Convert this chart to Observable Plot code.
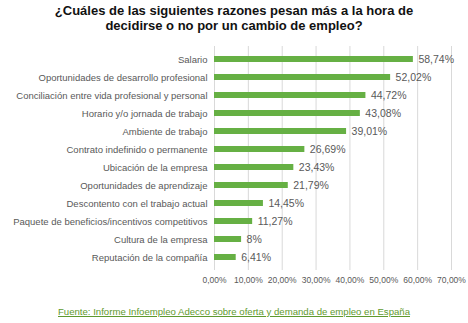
<!DOCTYPE html>
<html><head><meta charset="utf-8">
<script src="https://cdn.jsdelivr.net/npm/d3@7"></script>
<script src="https://cdn.jsdelivr.net/npm/@observablehq/plot@0.6"></script>
<style>
body{margin:0;background:#fff;font-family:"Liberation Sans",Arial,sans-serif;}
#wrap{width:468px;}
#title{height:40px;text-align:center;font-weight:bold;font-size:13px;line-height:15px;color:#111;padding-top:3px;box-sizing:border-box;}
#cap{text-align:center;font-size:9.6px;color:#5f9a2e;text-decoration:underline;margin-top:15px;}
svg{display:block;}
</style></head><body>
<div id="wrap">
<div id="title">¿Cuáles de las siguientes razones pesan más a la hora de<br>decidirse o no por un cambio de empleo?</div>
<div id="chart"></div>
<div id="cap">Fuente: Informe Infoempleo Adecco sobre oferta y demanda de empleo en España</div>
</div>
<script>
const categories = ["Salario","Oportunidades de desarrollo profesional","Conciliación entre vida profesional y personal","Horario y/o jornada de trabajo","Ambiente de trabajo","Contrato indefinido o permanente","Ubicación de la empresa","Oportunidades de aprendizaje","Descontento con el trabajo actual","Paquete de beneficios/incentivos competitivos","Cultura de la empresa","Reputación de la compañía"];
const values = [58.74,52.02,44.72,43.08,39.01,26.69,23.43,21.79,14.45,11.27,8,6.41];
const valueLabels = ["58,74%","52,02%","44,72%","43,08%","39,01%","26,69%","23,43%","21,79%","14,45%","11,27%","8%","6,41%"];
const xTicks = [0,10,20,30,40,50,60,70];
const xTickLabels = ["0,00%","10,00%","20,00%","30,00%","40,00%","50,00%","60,00%","70,00%"];

const data = categories.map((c,i)=>({cat:c, v:values[i], lab:valueLabels[i]}));
const chart = Plot.plot({
  width:468, height:251,
  marginLeft:214, marginRight:17, marginTop:6, marginBottom:21,
  style:{fontFamily:"Liberation Sans, Arial, sans-serif"},
  x:{domain:[0,70], ticks:xTicks, tickFormat:(d)=>xTickLabels[xTicks.indexOf(d)], label:null},
  y:{domain:categories, paddingInner:0.64, paddingOuter:0.32, label:null},
  marks:[
    Plot.gridX(xTicks,{stroke:"#d9d9d9", strokeOpacity:1}),
    Plot.barX(data,{y:"cat", x:"v", fill:"#66b044"}),
    Plot.text(data,{y:"cat", x:"v", text:"lab", dx:5, textAnchor:"start", fill:"#595959", fontSize:10.5}),
    Plot.axisY({tickSize:0, tickPadding:7, fontSize:9.5, fill:"#595959"}),
    Plot.axisX(xTicks,{tickSize:0, tickPadding:6, fontSize:8.5, fill:"#595959", tickFormat:(d)=>xTickLabels[xTicks.indexOf(d)]})
  ]
});
document.getElementById("chart").appendChild(chart);
</script>
</body></html>
